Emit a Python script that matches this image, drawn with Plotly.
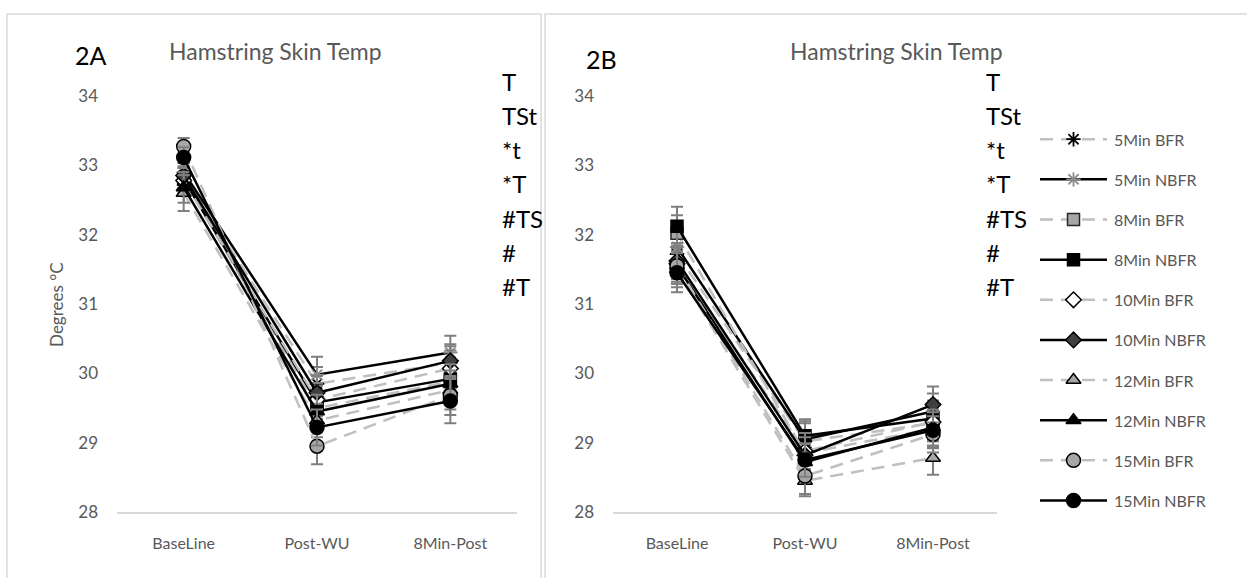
import plotly.graph_objects as go

W, H = 1247, 578

categories = ["BaseLine", "Post-WU", "8Min-Post"]
series_names = ["5Min BFR", "5Min NBFR", "8Min BFR", "8Min NBFR", "10Min BFR",
                "10Min NBFR", "12Min BFR", "12Min NBFR", "15Min BFR", "15Min NBFR"]

# Panel 2A values (deg C)
a_5bfr = [32.85, 29.85, 30.15]
a_5nbfr = [32.90, 29.98, 30.30]
a_8bfr = [32.80, 29.50, 29.88]
a_8nbfr = [32.80, 29.58, 29.92]
a_10bfr = [32.78, 29.62, 30.07]
a_10nbfr = [32.85, 29.72, 30.18]
a_12bfr = [32.60, 29.32, 29.76]
a_12nbfr = [32.68, 29.45, 29.85]
a_15bfr = [33.27, 28.95, 29.68]
a_15nbfr = [33.11, 29.22, 29.60]
# Panel 2A error bars (same order as the series)
a_errs = [[0.18, 0.24, 0.24], [0.18, 0.26, 0.24], [0.18, 0.24, 0.26], [0.18, 0.24, 0.26], [0.18, 0.24, 0.26],
          [0.18, 0.24, 0.24], [0.26, 0.24, 0.28], [0.22, 0.24, 0.28], [0.12, 0.26, 0.28], [0.15, 0.26, 0.32]]

# Panel 2B values (deg C)
b_5bfr = [31.72, 29.02, 29.28]
b_5nbfr = [31.82, 29.05, 29.45]
b_8bfr = [32.02, 28.85, 29.20]
b_8nbfr = [32.12, 29.10, 29.35]
b_10bfr = [31.58, 28.88, 29.30]
b_10nbfr = [31.62, 28.82, 29.55]
b_12bfr = [31.50, 28.45, 28.78]
b_12nbfr = [31.55, 28.72, 29.22]
b_15bfr = [31.55, 28.52, 29.12]
b_15nbfr = [31.45, 28.75, 29.18]
b_errs = [[0.26] * 3, [0.26] * 3, [0.26] * 3, [0.28, 0.24, 0.26], [0.26] * 3,
          [0.26] * 3, [0.26, 0.22, 0.24], [0.26] * 3, [0.26] * 3, [0.28, 0.24, 0.26]]

y_ticks = [28, 29, 30, 31, 32, 33, 34]
notes = ["T", "TSt", "*t", "*T", "#TS", "#", "#T"]

a_data = [a_5bfr, a_5nbfr, a_8bfr, a_8nbfr, a_10bfr, a_10nbfr, a_12bfr, a_12nbfr, a_15bfr, a_15nbfr]
b_data = [b_5bfr, b_5nbfr, b_8bfr, b_8nbfr, b_10bfr, b_10nbfr, b_12bfr, b_12nbfr, b_15bfr, b_15nbfr]

GRAY_LINE = "#bfbfbf"
TXT = "#595959"
FONT = "Lato"
DASH = "13px,8px"

styles = [
    dict(line=dict(color=GRAY_LINE, dash=DASH, width=2.5),
         marker=dict(symbol="asterisk-open", size=12, color="black", line=dict(color="black", width=1.8))),
    dict(line=dict(color="black", width=2.5),
         marker=dict(symbol="asterisk-open", size=12, color="#8c8c8c", line=dict(color="#8c8c8c", width=1.8))),
    dict(line=dict(color=GRAY_LINE, dash=DASH, width=2.5),
         marker=dict(symbol="square", size=12, color="#a6a6a6", line=dict(color="#262626", width=1.5))),
    dict(line=dict(color="black", width=2.5),
         marker=dict(symbol="square", size=12, color="black", line=dict(color="black", width=1.5))),
    dict(line=dict(color=GRAY_LINE, dash=DASH, width=2.5),
         marker=dict(symbol="diamond", size=12, color="white", line=dict(color="black", width=1.5))),
    dict(line=dict(color="black", width=2.5),
         marker=dict(symbol="diamond", size=12, color="#404040", line=dict(color="black", width=1.5))),
    dict(line=dict(color=GRAY_LINE, dash=DASH, width=2.5),
         marker=dict(symbol="triangle-up", size=13, color="#a6a6a6", line=dict(color="black", width=1.5))),
    dict(line=dict(color="black", width=2.5),
         marker=dict(symbol="triangle-up", size=13, color="black", line=dict(color="black", width=1.5))),
    dict(line=dict(color=GRAY_LINE, dash=DASH, width=2.5),
         marker=dict(symbol="circle", size=14, color="#a6a6a6", line=dict(color="black", width=1.5))),
    dict(line=dict(color="black", width=2.5),
         marker=dict(symbol="circle", size=14, color="black", line=dict(color="black", width=1.5))),
]


def px(x):
    return x / W


def py(y):
    return 1 - y / H


fig = go.Figure()
xs = list(range(len(categories)))
for data, errs, xa, ya in [(a_data, a_errs, "x", "y"), (b_data, b_errs, "x2", "y2")]:
    for i, vals in enumerate(data):
        st = styles[i]
        fig.add_trace(go.Scatter(
            x=xs, y=vals, mode="lines+markers", name=series_names[i],
            line=st["line"], marker=st["marker"],
            error_y=dict(type="data", array=errs[i], color="#7f7f7f", thickness=2, width=6),
            xaxis=xa, yaxis=ya, showlegend=False,
        ))

# Manual legend (Excel style: long line sample with the marker in the middle)
leg_rows = list(range(len(series_names)))
for i, name in enumerate(series_names):
    st = styles[i]
    fig.add_trace(go.Scatter(x=[0, 1], y=[leg_rows[i], leg_rows[i]], mode="lines", line=st["line"],
                             xaxis="x3", yaxis="y3", showlegend=False, hoverinfo="skip"))
    fig.add_trace(go.Scatter(x=[0.5], y=[leg_rows[i]], mode="markers", marker=st["marker"],
                             xaxis="x3", yaxis="y3", showlegend=False, hoverinfo="skip"))

xa_common = dict(showgrid=False, zeroline=False, tickmode="array", tickvals=xs, ticktext=categories,
                 range=[-0.5, 2.5], showline=True, linecolor="#d9d9d9", linewidth=1.5, ticks="",
                 ticklabelstandoff=16, tickfont=dict(family=FONT, size=16, color=TXT))
ya_common = dict(showgrid=False, zeroline=False, range=[28, 34], tickvals=y_ticks, showline=False,
                 ticks="", ticklabelstandoff=18, tickfont=dict(family=FONT, size=17, color=TXT))

ydom = [py(520), py(88)]
n = len(series_names)
fig.update_layout(
    width=W, height=H, margin=dict(l=0, r=0, t=0, b=0),
    paper_bgcolor="white", plot_bgcolor="rgba(0,0,0,0)",
    xaxis=dict(xa_common, domain=[px(117), px(517)], anchor="y"),
    yaxis=dict(ya_common, domain=ydom, anchor="x"),
    xaxis2=dict(xa_common, domain=[px(613), px(997)], anchor="y2"),
    yaxis2=dict(ya_common, domain=ydom, anchor="x2"),
    xaxis3=dict(domain=[px(1040), px(1107)], range=[0, 1], visible=False, anchor="y3"),
    yaxis3=dict(domain=[py(508 + 20.8), py(133 - 20.8)], range=[n - 0.5, -0.5], visible=False, anchor="x3"),
    showlegend=False,
)

shapes = [
    dict(type="rect", xref="paper", yref="paper", x0=px(7), x1=px(541), y0=py(600), y1=py(3),
         line=dict(color="#d9d9d9", width=1.5), layer="below"),
    dict(type="rect", xref="paper", yref="paper", x0=px(545), x1=px(1260), y0=py(600), y1=py(3),
         line=dict(color="#d9d9d9", width=1.5), layer="below"),
]
fig.update_layout(shapes=shapes)

ann = []
ann.append(dict(text="2A", x=px(73), y=py(46), xanchor="left", yanchor="middle",
                font=dict(family=FONT, size=25, color="black")))
ann.append(dict(text="Hamstring Skin Temp", x=px(275), y=py(42), xanchor="center", yanchor="middle",
                font=dict(family=FONT, size=23, color=TXT)))
ann.append(dict(text="2B", x=px(584), y=py(50), xanchor="left", yanchor="middle",
                font=dict(family=FONT, size=25, color="black")))
ann.append(dict(text="Hamstring Skin Temp", x=px(896), y=py(42), xanchor="center", yanchor="middle",
                font=dict(family=FONT, size=23, color=TXT)))
ann.append(dict(text="Degrees °C", x=px(57), y=py(305), xanchor="center", yanchor="middle", textangle=-90,
                font=dict(family=FONT, size=17, color=TXT)))
for k, t in enumerate(notes):
    yy = 73 + k * 35.5
    ann.append(dict(text=t, x=px(500), y=py(yy), xanchor="left", yanchor="middle",
                    font=dict(family=FONT, size=24, color="black")))
    ann.append(dict(text=t, x=px(984), y=py(yy), xanchor="left", yanchor="middle",
                    font=dict(family=FONT, size=24, color="black")))
for i, name in enumerate(series_names):
    ann.append(dict(text=name, x=px(1112), y=leg_rows[i], xref="paper", yref="y3", xanchor="left",
                    yanchor="middle", font=dict(family=FONT, size=16, color=TXT)))
for a in ann:
    a.setdefault("xref", "paper")
    a.setdefault("yref", "paper")
    a["showarrow"] = False
fig.update_layout(annotations=ann)

fig.write_html("out.html")
